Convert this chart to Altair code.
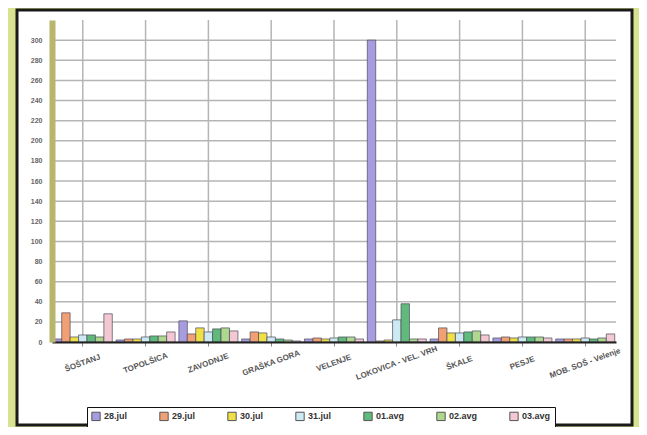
import altair as alt
import pandas as pd

stations = ["ŠOŠTANJ", "TOPOLŠICA", "ZAVODNJE", "GRAŠKA GORA", "VELENJE",
            "LOKOVICA - VEL. VRH", "ŠKALE", "PESJE", "MOB. SOŠ - Velenje"]
days = ["28.jul", "29.jul", "30.jul", "31.jul", "01.avg", "02.avg", "03.avg"]
colors = ["#a79ce0", "#f0a074", "#f0e048", "#cdeaf2", "#5fba7c", "#aed88e", "#f3c8d2"]

jul28 = [3, 2, 21, 3, 3, 300, 3, 4, 3]
jul29 = [29, 3, 8, 10, 4, 1, 14, 5, 3]
jul30 = [5, 3, 14, 9, 3, 2, 9, 4, 3]
jul31 = [7, 5, 10, 5, 4, 22, 9, 5, 4]
avg01 = [7, 6, 13, 3, 5, 38, 10, 5, 3]
avg02 = [5, 6, 14, 2, 5, 3, 11, 5, 4]
avg03 = [28, 10, 11, 1, 3, 3, 7, 4, 8]
y_ticks = list(range(0, 301, 20))

series = [jul28, jul29, jul30, jul31, avg01, avg02, avg03]
rows = []
for d, vals in zip(days, series):
    for s, v in zip(stations, vals):
        rows.append({"postaja": s, "dan": d, "vrednost": v})
df = pd.DataFrame(rows)

y_scale = alt.Scale(domain=[0, 320], nice=False)
x_scale = alt.Scale(domain=stations, paddingInner=0.06, paddingOuter=0.02)

x_axis = alt.Axis(labelAngle=340, labelAlign="center", labelBaseline="middle",
                  labelPadding=17, labelFontSize=8, labelColor="#555555",
                  labelFont="Liberation Sans", labelFontWeight="bold",
                  grid=False, bandPosition=0.5, domainColor="#222222",
                  domainWidth=2, ticks=True, tickSize=4, tickColor="#888888",
                  labelOverlap=False, zindex=1, title=None)
y_axis = alt.Axis(values=y_ticks, labelFontSize=7, labelColor="#666666",
                  labelFont="Liberation Sans", labelFontWeight="bold",
                  ticks=False, tickSize=0, labelPadding=10, grid=False,
                  domainColor="#b8b56c", domainWidth=6, zindex=1, title=None)

frame = alt.Chart(pd.DataFrame({"k": [0]})).mark_rect(
    fill="white", stroke="#1a1a1a", strokeWidth=3
).encode(
    x=alt.value(-35), x2=alt.value(580), y=alt.value(-10), y2=alt.value(405)
)

hgrid = alt.Chart(pd.DataFrame({"vrednost": y_ticks})).mark_rule(
    color="#b5b5b5", strokeWidth=1.5
).encode(y=alt.Y("vrednost:Q", scale=y_scale, axis=y_axis))

vgrid = alt.Chart(pd.DataFrame({"postaja": stations})).mark_rule(
    color="#b5b5b5", strokeWidth=1.5
).encode(x=alt.X("postaja:N", sort=stations, scale=x_scale, axis=x_axis))

bars = alt.Chart(df).mark_bar(stroke="#4a4a5a", strokeWidth=0.7).encode(
    x=alt.X("postaja:N", sort=stations, scale=x_scale, axis=x_axis),
    xOffset=alt.XOffset("dan:N", sort=days, scale=alt.Scale(paddingInner=0, paddingOuter=0)),
    y=alt.Y("vrednost:Q", scale=y_scale, axis=y_axis),
    color=alt.Color("dan:N", sort=days, title=None,
                    scale=alt.Scale(domain=days, range=colors),
                    legend=alt.Legend(orient="none", legendX=35, legendY=387,
                                      direction="horizontal", columns=7,
                                      symbolType="square", symbolSize=70,
                                      symbolStrokeColor="#555555", symbolStrokeWidth=1,
                                      labelFont="Liberation Sans", labelFontSize=9,
                                      labelFontWeight="bold", labelColor="#333333",
                                      columnPadding=29, labelOffset=3,
                                      strokeColor="#111111", fillColor="white",
                                      padding=4)),
)

chart = alt.layer(frame, hgrid, vgrid, bars).properties(
    width=564, height=322,
    background="#d8e390",
    autosize=alt.AutoSizeParams(type="none"),
    padding={"left": 44, "top": 12, "right": 23, "bottom": 85},
).configure_view(stroke=None)

chart.save("out.html", embed_options={"renderer": "svg", "actions": False})
